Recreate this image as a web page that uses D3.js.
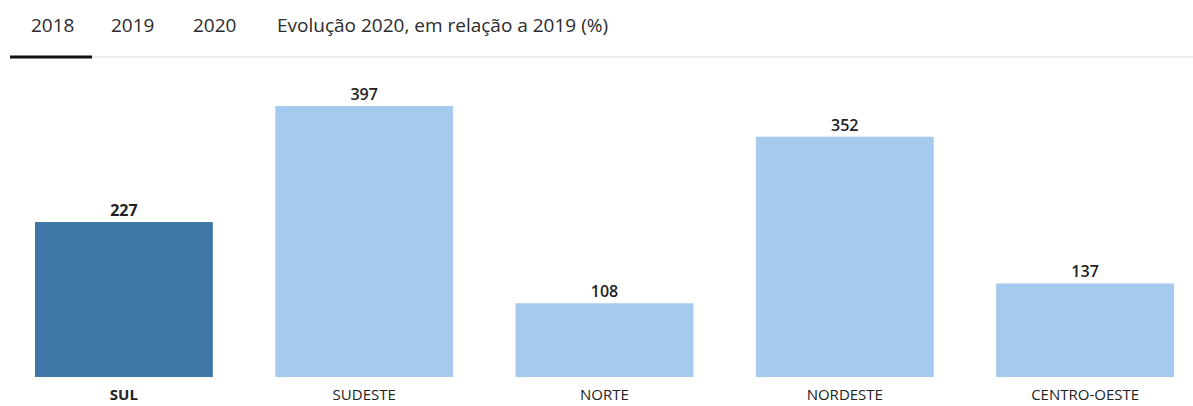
<!DOCTYPE html>
<html>
<head>
<meta charset="utf-8">
<script src="https://cdn.jsdelivr.net/npm/d3@7"></script>
<style>
  body { margin: 0; background: #fff; font-family: "Open Sans", sans-serif; }
</style>
</head>
<body>
<script>
var tabs = ["2018", "2019", "2020", "Evolução 2020, em relação a 2019 (%)"],
    tabX = [31, 111, 193, 277],
    regions = ["SUL", "SUDESTE", "NORTE", "NORDESTE", "CENTRO-OESTE"],
    values = [227, 397, 108, 352, 137],
    highlight = "SUL";

var width = 1193, height = 406,
    baseline = 377;

var svg = d3.select("body").append("svg")
    .attr("width", width)
    .attr("height", height);

// tab bar
svg.selectAll(".tab")
    .data(tabs)
  .enter().append("text")
    .attr("class", "tab")
    .attr("x", (d, i) => tabX[i])
    .attr("y", 32)
    .style("font-size", "19px")
    .style("fill", "#2b2b2b")
    .text((d) => d);

svg.append("line")
    .attr("x1", 10).attr("x2", width)
    .attr("y1", 57).attr("y2", 57)
    .style("stroke", "#e8e8e8")
    .style("stroke-width", 1.5);

svg.append("line")
    .attr("x1", 10).attr("x2", 92)
    .attr("y1", 57).attr("y2", 57)
    .style("stroke", "#111")
    .style("stroke-width", 3);

var x = d3.scaleBand()
    .domain(regions)
    .range([35, 1174])
    .paddingInner(0.26)
    .paddingOuter(0);

var y = d3.scaleLinear()
    .domain([0, 397])
    .range([baseline, 106]);

var bar = svg.selectAll(".bar")
    .data(regions)
  .enter().append("g")
    .attr("class", "bar");

bar.append("rect")
    .attr("x", (d) => x(d))
    .attr("width", x.bandwidth())
    .attr("y", (d, i) => y(values[i]))
    .attr("height", (d, i) => baseline - y(values[i]))
    .style("fill", (d) => d === highlight ? "#3e77a7" : "#a6c9ee");

bar.append("text")
    .attr("x", (d) => x(d) + x.bandwidth() / 2)
    .attr("y", (d, i) => y(values[i]) - 6)
    .attr("text-anchor", "middle")
    .style("font-size", "16px")
    .style("font-weight", (d) => d === highlight ? 700 : 600)
    .style("fill", "#222")
    .text((d, i) => values[i]);

bar.append("text")
    .attr("x", (d) => x(d) + x.bandwidth() / 2)
    .attr("y", 400)
    .attr("text-anchor", "middle")
    .style("font-size", "15px")
    .style("font-weight", (d) => d === highlight ? 700 : 400)
    .style("fill", "#222")
    .text((d) => d);
</script>
</body>
</html>
